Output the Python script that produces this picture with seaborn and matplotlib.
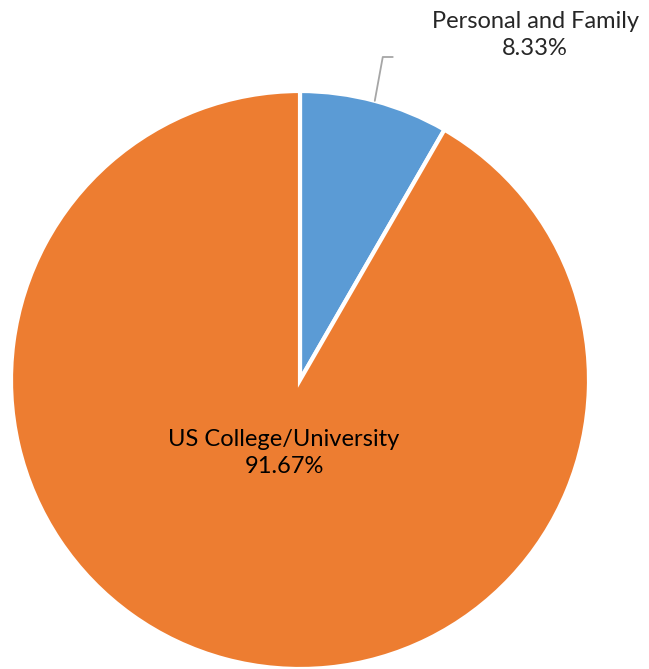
import numpy as np
import seaborn as sns
import matplotlib.pyplot as plt

# Data
labels = ['Personal and Family', 'US College/University']
values = [8.33, 91.67]
colors = ['#5B9BD5', '#ED7D31']

sns.set_style('white')
plt.rcParams['font.family'] = ['Lato', 'DejaVu Sans']

W, H = 649, 669
fig = plt.figure(figsize=(W / 100, H / 100), dpi=100)
ax = fig.add_axes([0, 0, 1, 1])

cx, cy, r = 300, H - 380, 289
wedges, _ = ax.pie(values, colors=colors, startangle=90, counterclock=False,
                   center=(cx, cy), radius=r, frame=True,
                   wedgeprops=dict(edgecolor='white', linewidth=3))
ax.set_xlim(0, W)
ax.set_ylim(0, H)
ax.set_aspect('equal')
ax.axis('off')

# leader line for small slice
w = wedges[0]
mid = np.deg2rad((w.theta1 + w.theta2) / 2)
x0, y0 = cx + r * np.cos(mid), cy + r * np.sin(mid)
ax.plot([x0, x0 + 8, x0 + 18], [y0, H - 57, H - 57], color='#A6A6A6', lw=1.3)

ax.text(535, H - 35, f'{labels[0]}\n{values[0]:.2f}%', ha='center', va='center',
        fontsize=17, color='#262626', linespacing=1.4)
ax.text(284, H - 453, f'{labels[1]}\n{values[1]:.2f}%', ha='center', va='center',
        fontsize=17, color='black', linespacing=1.4)

fig.savefig('out.png', dpi=100)
